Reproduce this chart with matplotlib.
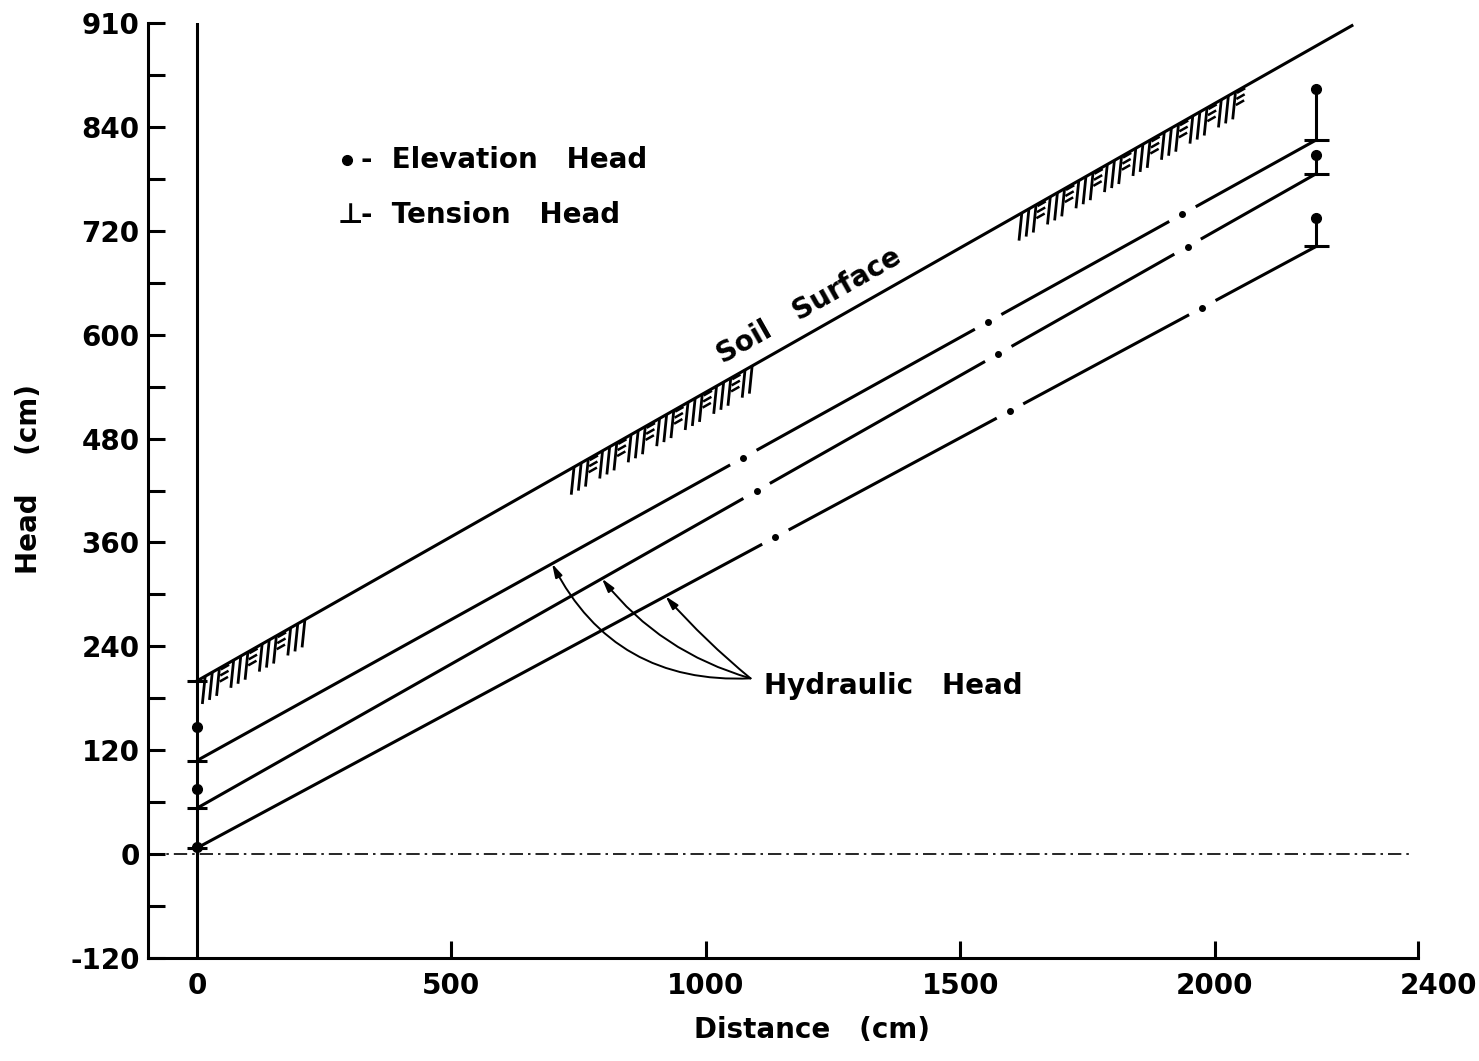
import numpy as np
import matplotlib.pyplot as plt
from matplotlib.transforms import ScaledTranslation

# heads along the slope (cm)
distance = [0, 2200]
soil_distance = [0, 2270]
soil_head = [200, 957]
elevation_start = [147, 75, 8]
elevation_end = [884, 808, 735]
hydraulic_start = [108, 53, 7]
hydraulic_end = [825, 786, 702]

y_ticks = [-120, 0, 120, 240, 360, 480, 600, 720, 840, 960]
y_labels = ['-120', '0', '120', '240', '360', '480', '600', '720', '840', '910']
x_ticks = [0, 500, 1000, 1500, 2000, 2400]
x_labels = ['0', '500', '1000', '1500', '2000', '2400']

# where each hydraulic head line turns into dash-dot
breaks = [[1074, 1555, 1937], [1100, 1575, 1947], [1137, 1598, 1976]]
hatch_spans = [(15, 220), (740, 1100), (1620, 2055)]
arrow_tips = [698, 796, 921]
arrow_rads = [-0.32, -0.16, -0.04]
arrow_tail = (1088, 203)

LW = 2.2
FS = 20
plt.rcParams['font.weight'] = 'bold'

fig = plt.figure(figsize=(14.79, 10.61), dpi=100)
ax = fig.add_axes([0.1001, 0.0971, 0.8587, 0.8812])
ax.set_xlim(-96, 2400)
ax.set_ylim(-120, 960)

for s in ['top', 'right']:
    ax.spines[s].set_visible(False)
for s in ['left', 'bottom']:
    ax.spines[s].set_linewidth(LW)

ax.set_yticks(y_ticks)
ax.set_yticklabels(y_labels, fontweight='bold')
ax.set_yticks(np.arange(-60, 960, 120), minor=True)
ax.set_xticks(x_ticks)
ax.set_xticklabels(x_labels, fontweight='bold')
ax.tick_params(axis='both', which='both', direction='in', length=12, width=LW,
               labelsize=FS)
ax.tick_params(axis='y', pad=6)
ax.tick_params(axis='x', pad=10)
ax.xaxis.get_major_ticks()[0].tick1line.set_visible(False)
# last distance label sits a little right of its tick
last = ax.get_xticklabels()[-1]
last.set_transform(last.get_transform() + ScaledTranslation(0.2, 0, fig.dpi_scale_trans))

ax.set_xlabel('Distance   (cm)', fontsize=FS, fontweight='bold')
ax.xaxis.set_label_coords(0.523, -0.062)
ax.set_ylabel('Head    (cm)', fontsize=FS, fontweight='bold')
ax.yaxis.set_label_coords(-0.083, 0.512)

# vertical at x = 0 and the datum line
ax.axvline(0, color='k', lw=LW)
ax.plot([-96, 2390], [0, 0], color='k', lw=1.2, linestyle=(0, (8, 3, 1.5, 3)))

# soil surface
ax.plot(soil_distance, soil_head, color='k', lw=LW)


def soil_at(x):
    return np.interp(x, soil_distance, soil_head)


# hatching under the soil surface
for x0, x1 in hatch_spans:
    xs = np.arange(x0, x1, 14)
    for i, x in enumerate(xs):
        top = soil_at(x)
        if i % 4 == 3:
            for dy in (6, 13, 20):
                ax.plot([x - 7 - dy * 0.15, x + 5 - dy * 0.15],
                        [top - dy + 1, top - dy + 5], color='k', lw=1.8)
        else:
            ax.plot([x + 1, x - 4], [top - 1, top - 30], color='k', lw=2.0)


# hydraulic head lines: solid, then long dash-dot
def head_line(y0, y1, gaps, half=26):
    starts = [0] + [g + half for g in gaps]
    ends = [g - half for g in gaps] + [distance[1]]
    for a, b in zip(starts, ends):
        ax.plot([a, b], np.interp([a, b], distance, [y0, y1]), color='k', lw=LW,
                solid_capstyle='butt')
    ax.plot(gaps, np.interp(gaps, distance, [y0, y1]), 'o', color='k', ms=4)


for y0, y1, g in zip(hydraulic_start, hydraulic_end, breaks):
    head_line(y0, y1, g)

# elevation head dots and tension head bars
ax.plot([0] * 3, elevation_start, 'o', color='k', ms=7)
ax.plot([0] * 4, hydraulic_start + [soil_head[0]], '_', color='k', ms=15, mew=LW)
for e, h in zip(elevation_end, hydraulic_end):
    ax.plot([distance[1], distance[1]], [e, h], color='k', lw=LW)
ax.plot([distance[1]] * 3, elevation_end, 'o', color='k', ms=7)
ax.plot([distance[1]] * 3, hydraulic_end, '_', color='k', ms=18, mew=LW)

# labels
ax.text(1203, 633, 'Soil   Surface', fontsize=FS, ha='center', va='center',
        rotation=np.degrees(np.arctan(1 / 3)), transform_rotates_text=True,
        rotation_mode='anchor')
ax.text(1114, 194, 'Hydraulic   Head', fontsize=FS, ha='left', va='center')

for tip, h0, h1, r in zip(arrow_tips, hydraulic_start, hydraulic_end, arrow_rads):
    ax.annotate('', xy=(tip, np.interp(tip, distance, [h0, h1])), xytext=arrow_tail,
                arrowprops=dict(arrowstyle='-|>,head_length=0.8,head_width=0.22',
                                connectionstyle=f'arc3,rad={r}', color='k', lw=1.4,
                                shrinkA=0, shrinkB=0))

ax.plot([0.157], [0.853], 'o', color='k', ms=7, transform=ax.transAxes)
ax.text(0.168, 0.853, '-  Elevation   Head', fontsize=FS, va='center', transform=ax.transAxes)
ax.text(0.149, 0.795, '\u22a5', fontsize=FS, va='center', transform=ax.transAxes)
ax.text(0.168, 0.795, '-  Tension   Head', fontsize=FS, va='center', transform=ax.transAxes)

fig.savefig('out.png', dpi=100)
